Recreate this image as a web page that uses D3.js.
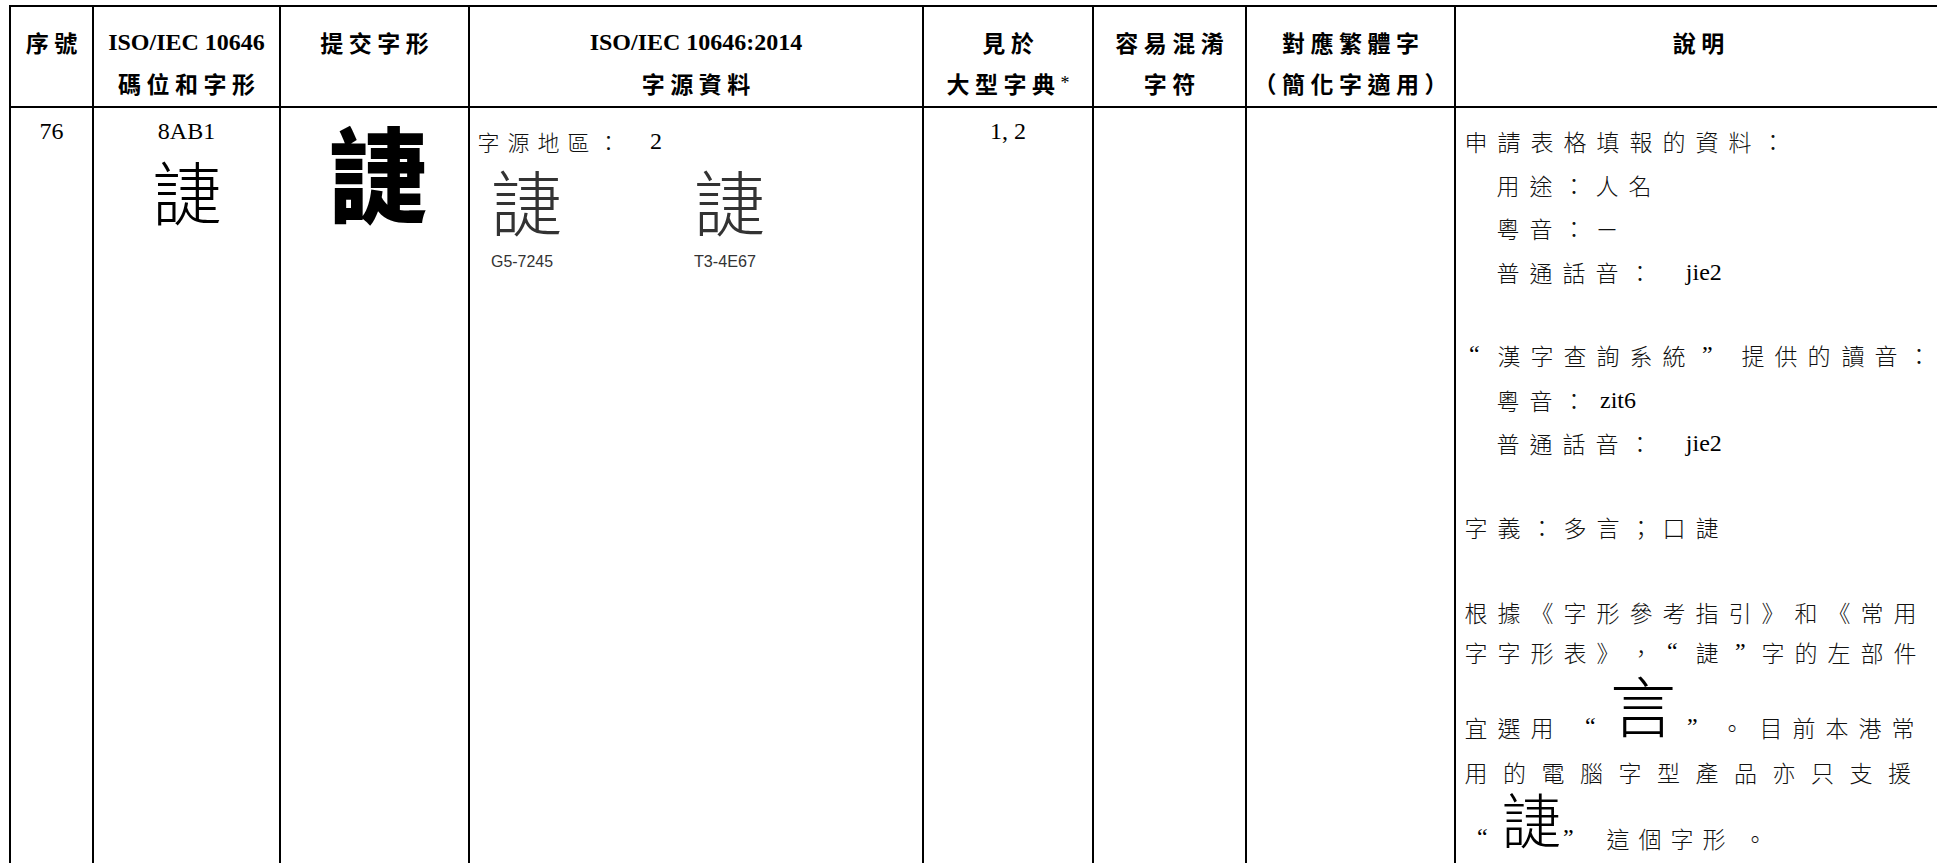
<!DOCTYPE html>
<html><head><meta charset="utf-8">
<script src="https://cdn.jsdelivr.net/npm/d3@7"></script>
<style>
html,body{margin:0;padding:0;background:#fff;overflow:hidden}
</style></head><body>
<svg id="c" width="1937" height="863"></svg>
<script>
// ---------------- data ----------------
const headerLine1 = ["序號", "ISO/IEC 10646", "提交字形", "ISO/IEC 10646:2014", "見於", "容易混淆", "對應繁體字", "說明"];
const headerLine2 = ["", "碼位和字形", "", "字源資料", "大型字典*", "字符", "（簡化字適用）", ""];
const serialNo = "76";
const codePoint = "8AB1";
const glyphChar = "\u8AB1";
const sourceRegion = "字源地區： 2";
const sourceGlyphs = ["\u8AB1", "\u8AB1"];
const sourceLabels = ["G5-7245", "T3-4E67"];
const dictionaries = "1, 2";
const confusable = "";
const traditional = "";
const notesLines = [
  "申請表格填報的資料：",
  "用途：人名",
  "粵音：－",
  "普通話音： jie2",
  "“漢字查詢系統”提供的讀音：",
  "粵音：zit6",
  "普通話音： jie2",
  "字義：多言；口\u8AB1",
  "根據《字形參考指引》和《常用",
  "字字形表》，“\u8AB1”字的左部件",
  "宜選用“{言}”。目前本港常",
  "用的電腦字型產品亦只支援",
  "“{\u8AB1}”這個字形。"
];

// ---------------- layout ----------------
const W = 1937, H = 863;
const colEdges = [10, 93, 280, 469, 923, 1093, 1246, 1455, 1942];
const yTop = 6, yHead = 107;
const CJK = "'Noto Sans CJK TC','Noto Sans CJK JP',sans-serif";
const SERIF = "'Liberation Serif','Times New Roman',serif";
const NARROW = "'Liberation Sans Narrow','Liberation Sans',Arial,sans-serif";

const svg = d3.select("#c");
svg.append("rect").attr("width", W).attr("height", H).attr("fill", "#fff");

const x = d3.scaleOrdinal().domain(d3.range(colEdges.length)).range(colEdges);
const colCenter = i => (x(i) + x(i + 1)) / 2;

// grid lines
const grid = svg.append("g").attr("stroke", "#000").attr("stroke-width", 2).attr("shape-rendering", "crispEdges");
grid.selectAll("line.v").data(d3.range(colEdges.length)).join("line")
  .attr("class", "v").attr("x1", i => x(i)).attr("x2", i => x(i))
  .attr("y1", yTop - 1).attr("y2", H + 5);
grid.selectAll("line.h").data([yTop, yHead]).join("line")
  .attr("class", "h").attr("x1", x(0) - 1).attr("x2", W + 5)
  .attr("y1", d => d).attr("y2", d => d);

// tokenizer
function tokens(s) { return s.match(/\{[^}]+\}|[A-Za-z0-9][A-Za-z0-9,\/\-: ]*[A-Za-z0-9]|[A-Za-z0-9]|./gu) || []; }
const isLatin = t => /^[A-Za-z0-9*\/]/.test(t);

// header
function headerText(str, cx, cy) {
  if (!str) return;
  const ls = 5.5;
  const t = svg.append("text").attr("y", cy).attr("dominant-baseline", "central")
    .attr("fill", "#000").attr("font-weight", "bold");
  const segs = str.match(/[A-Za-z0-9\/: *]+|[^A-Za-z0-9\/: *]+/g);
  segs.forEach(sg => {
    const lat = /^[A-Za-z0-9\/: *]/.test(sg);
    t.append("tspan").text(sg)
      .attr("font-family", lat ? SERIF : CJK)
      .attr("font-size", lat ? (sg === "*" ? 18 : 24) : 23)
      .attr("font-weight", sg === "*" ? "normal" : "bold")
      .style("letter-spacing", lat ? "0px" : ls + "px");
  });
  const w = t.node().getComputedTextLength();
  const last = segs[segs.length - 1];
  const trail = /^[A-Za-z0-9\/: *]/.test(last) ? 0 : ls;
  t.attr("x", cx - (w - trail) / 2);
}
headerLine1.forEach((s, i) => headerText(s, colCenter(i), 42));
headerLine2.forEach((s, i) => headerText(s, colCenter(i), 83));

// body line renderer (cell-based)
function drawLine(g, str, o) {
  const adv = o.adv || 33, size = o.size || 23;
  let px = o.x;
  tokens(str).forEach((tk, i) => {
    if (o.xs) px = o.xs[i];
    if (tk.startsWith("{")) {
      const ch = tk.slice(1, -1);
      g.append("text").text(ch).attr("x", px).attr("y", o.bigY)
        .attr("dominant-baseline", "central").attr("font-family", CJK)
        .attr("font-size", o.bigSize).attr("font-weight", 300).attr("fill", "#000");
      px += o.bigSize;
    } else if (tk === " ") {
      px += adv * 0.6;
    } else if (isLatin(tk)) {
      const t = g.append("text").text(tk).attr("x", px + 4).attr("y", o.y)
        .attr("dominant-baseline", "central").attr("font-family", SERIF)
        .attr("font-size", 24).attr("fill", "#000");
      px += 4 + t.node().getComputedTextLength() + 4;
    } else if (tk === "“" || tk === "”") {
      g.append("text").text(tk).attr("x", px + (tk === "“" ? 4 : 6)).attr("y", o.y - 1)
        .attr("dominant-baseline", "central").attr("font-family", SERIF)
        .attr("font-size", 24).attr("fill", "#000");
      px += adv;
    } else {
      g.append("text").text(tk).attr("x", px - 0.5).attr("y", o.y)
        .attr("dominant-baseline", "central").attr("font-family", CJK)
        .attr("font-size", size).attr("font-weight", 300).attr("fill", "#111");
      px += adv;
    }
  });
}

const body = svg.append("g");

// col 0: serial
body.append("text").text(serialNo).attr("x", colCenter(0)).attr("y", 131)
  .attr("text-anchor", "middle").attr("dominant-baseline", "central")
  .attr("font-family", SERIF).attr("font-size", 24);

// col 1: code point and glyph
body.append("text").text(codePoint).attr("x", colCenter(1)).attr("y", 131)
  .attr("text-anchor", "middle").attr("dominant-baseline", "central")
  .attr("font-family", SERIF).attr("font-size", 24);
body.append("text").text(glyphChar).attr("x", colCenter(1)).attr("y", 190)
  .attr("text-anchor", "middle").attr("dominant-baseline", "central")
  .attr("font-family", CJK).attr("font-size", 70).attr("font-weight", 300).attr("fill", "#000");

// col 2: submitted glyph (bold bitmap-like)
body.append("text").text(glyphChar)
  .attr("transform", `translate(378,170) scale(0.95,1)`)
  .attr("text-anchor", "middle").attr("dominant-baseline", "central")
  .attr("font-family", CJK).attr("font-size", 104).attr("font-weight", 900).attr("fill", "#000");

// col 3: source info
drawLine(body, sourceRegion, {x: 478, y: 141, adv: 30, size: 22});
const srcX = d3.scalePoint().domain(d3.range(sourceGlyphs.length)).range([526, 729]);
body.selectAll("text.sg").data(sourceGlyphs).join("text").attr("class", "sg")
  .text(d => d).attr("x", (d, i) => srcX(i)).attr("y", 199)
  .attr("text-anchor", "middle").attr("dominant-baseline", "central")
  .attr("font-family", CJK).attr("font-size", 72).attr("font-weight", 300).attr("fill", "#333");
body.selectAll("text.sl").data(sourceLabels).join("text").attr("class", "sl")
  .text(d => d).attr("x", (d, i) => srcX(i) - 4).attr("y", 261)
  .attr("text-anchor", "middle").attr("dominant-baseline", "central")
  .attr("font-family", NARROW).attr("font-size", 17).attr("fill", "#333")
  .attr("textLength", 62).attr("lengthAdjust", "spacingAndGlyphs");

// col 4: dictionaries
body.append("text").text(dictionaries).attr("x", colCenter(4)).attr("y", 131)
  .attr("text-anchor", "middle").attr("dominant-baseline", "central")
  .attr("font-family", SERIF).attr("font-size", 24);
// col 5 / col 6 (empty)
body.append("text").text(confusable).attr("x", colCenter(5)).attr("y", 131);
body.append("text").text(traditional).attr("x", colCenter(6)).attr("y", 131);

// col 7: notes
const noteLayout = [
  {x: 1465, y: 141}, {x: 1497, y: 185}, {x: 1497, y: 228}, {x: 1497, y: 272},
  {xs: [1465, 1498, 1531, 1564, 1597, 1630, 1663, 1696, 1742, 1775, 1808, 1842, 1875, 1908], y: 355},
  {x: 1497, y: 400}, {x: 1497, y: 443}, {x: 1465, y: 527},
  {x: 1465, y: 612}, {x: 1465, y: 652},
  {xs: [1465, 1498, 1531, 1581, 1610, 1681, 1721, 1760, 1793, 1826, 1859, 1892], y: 727, bigY: 703, bigSize: 66},
  {x: 1465, y: 772, adv: 38.5},
  {xs: [1473, 1501, 1557, 1607, 1639, 1671, 1703, 1744], y: 838, bigY: 817, bigSize: 60}
];
notesLines.forEach((s, i) => drawLine(body, s, noteLayout[i]));
</script>
</body></html>
